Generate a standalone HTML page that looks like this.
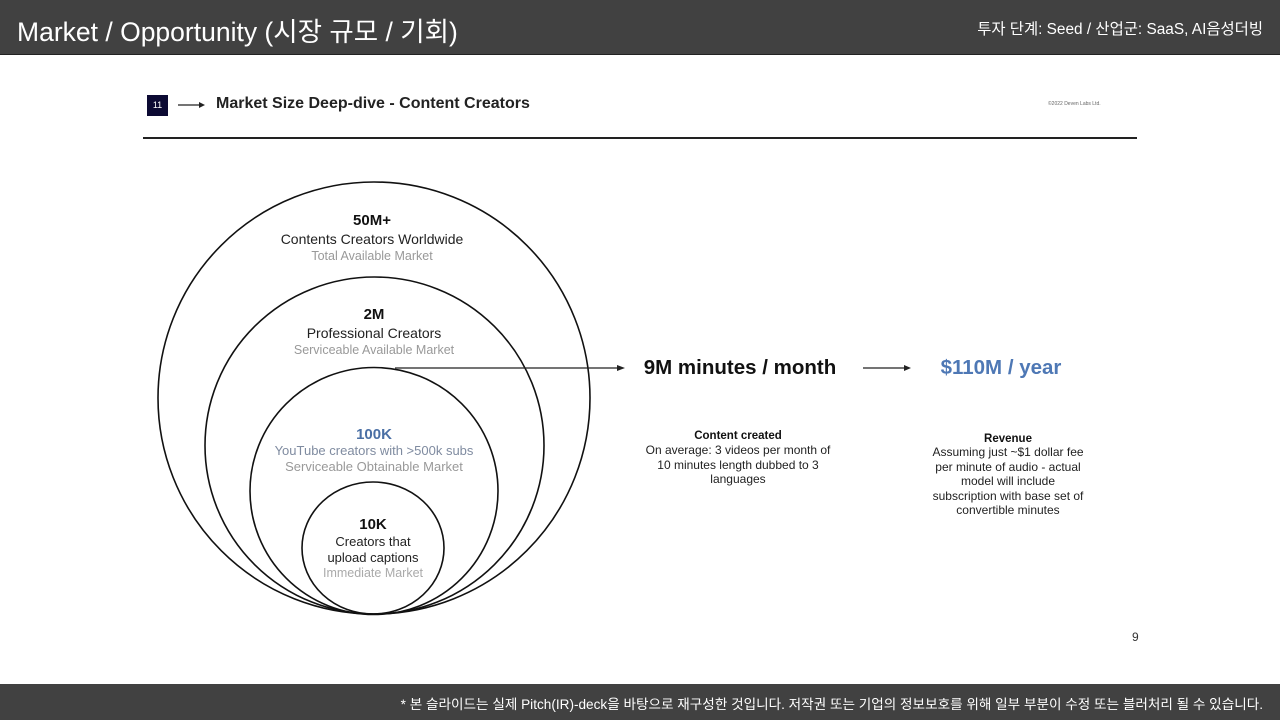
<!DOCTYPE html>
<html><head><meta charset="utf-8"><style>
body{margin:0;width:1280px;height:720px;background:#fff;position:relative;overflow:hidden;font-family:"Liberation Sans","Noto Sans CJK KR",sans-serif}
.top{position:absolute;left:0;top:0;width:1280px;height:54px;background:#414141;border-bottom:1px solid #222}
.top .t{position:absolute;left:17px;top:10px;font-size:26.5px;color:#fff}
.top .r{position:absolute;right:17px;top:17px;font-size:15.4px;color:#fff}
.bot{position:absolute;left:0;top:684px;width:1280px;height:36px;background:#414141;color:#fff;font-size:13.6px}
.bot span{position:absolute;right:17px;top:9px}
.a{position:absolute;white-space:nowrap}
</style></head><body>
<div class="top"><div class="t">Market / Opportunity (시장 규모 / 기회)</div><div class="r">투자 단계: Seed / 산업군: SaaS, AI음성더빙</div></div>
<div class="a" style="left:147px;top:95px;width:21px;height:21px;background:#0c0a33;color:#fff;font-size:9px;line-height:21px;text-align:center">11</div>
<div class="a" style="left:216px;top:95px;font-size:16px;font-weight:bold;color:#222">Market Size Deep-dive - Content Creators</div>
<div class="a" style="left:1048px;top:101px;font-size:5px;color:#666">©2022 Deven Labs Ltd.</div>
<div class="a" style="left:1132px;top:630px;font-size:12px;color:#333">9</div>
<svg width="1280" height="720" style="position:absolute;left:0;top:0" font-family="Liberation Sans, sans-serif">
<line x1="178" y1="105" x2="203" y2="105" stroke="#222" stroke-width="1.3"/><path d="M199,102 L205,105 L199,108" fill="#222"/>
<line x1="143" y1="138" x2="1137" y2="138" stroke="#222" stroke-width="2"/>
<g fill="none" stroke="#111" stroke-width="1.6">
<circle cx="374" cy="398" r="216"/>
<ellipse cx="374.5" cy="445.5" rx="169.5" ry="168.5"/>
<ellipse cx="374" cy="491" rx="124" ry="123.5"/>
<ellipse cx="373" cy="548" rx="71" ry="66"/>
</g>
<line x1="395" y1="368" x2="620" y2="368" stroke="#222" stroke-width="1.3"/><path d="M617,365 L625,368 L617,371" fill="#222"/>
<line x1="863" y1="368" x2="907" y2="368" stroke="#222" stroke-width="1.3"/><path d="M904,365 L911,368 L904,371" fill="#222"/>
<g text-anchor="middle">
<text x="372" y="225" font-size="15" font-weight="bold" fill="#111">50M+</text>
<text x="372" y="244" font-size="14" fill="#222">Contents Creators Worldwide</text>
<text x="372" y="260" font-size="12.5" fill="#999">Total Available Market</text>
<text x="374" y="319" font-size="15" font-weight="bold" fill="#111">2M</text>
<text x="374" y="338" font-size="14" fill="#222">Professional Creators</text>
<text x="374" y="354" font-size="12.5" fill="#999">Serviceable Available Market</text>
<text x="374" y="439" font-size="15" font-weight="bold" fill="#4a6fa5">100K</text>
<text x="374" y="455" font-size="13" fill="#7f8ba0">YouTube creators with &gt;500k subs</text>
<text x="374" y="471" font-size="13" fill="#999">Serviceable Obtainable Market</text>
<text x="373" y="529" font-size="15" font-weight="bold" fill="#111">10K</text>
<text x="373" y="546" font-size="13" fill="#222">Creators that</text>
<text x="373" y="562" font-size="13" fill="#222">upload captions</text>
<text x="373" y="577" font-size="12.5" fill="#aaa">Immediate Market</text>
<text x="740" y="374" font-size="20.5" font-weight="bold" fill="#111">9M minutes / month</text>
<text x="1001" y="374" font-size="20.5" font-weight="bold" fill="#4e78b5">$110M / year</text>
<text x="738" y="439" font-size="11.5" font-weight="bold" fill="#111">Content created</text>
<text x="738" y="454" font-size="12" fill="#222">On average: 3 videos per month of</text>
<text x="738" y="469" font-size="12" fill="#222">10 minutes length dubbed to 3</text>
<text x="738" y="483" font-size="12" fill="#222">languages</text>
<text x="1008" y="442" font-size="11.5" font-weight="bold" fill="#111">Revenue</text>
<text x="1008" y="456" font-size="12" fill="#222">Assuming just ~$1 dollar fee</text>
<text x="1008" y="471" font-size="12" fill="#222">per minute of audio - actual</text>
<text x="1008" y="485" font-size="12" fill="#222">model will include</text>
<text x="1008" y="500" font-size="12" fill="#222">subscription with base set of</text>
<text x="1008" y="514" font-size="12" fill="#222">convertible minutes</text>
</g>
</svg>
<div class="bot"><span>* 본 슬라이드는 실제 Pitch(IR)-deck을 바탕으로 재구성한 것입니다. 저작권 또는 기업의 정보보호를 위해 일부 부분이 수정 또는 블러처리 될 수 있습니다.</span></div>
</body></html>
